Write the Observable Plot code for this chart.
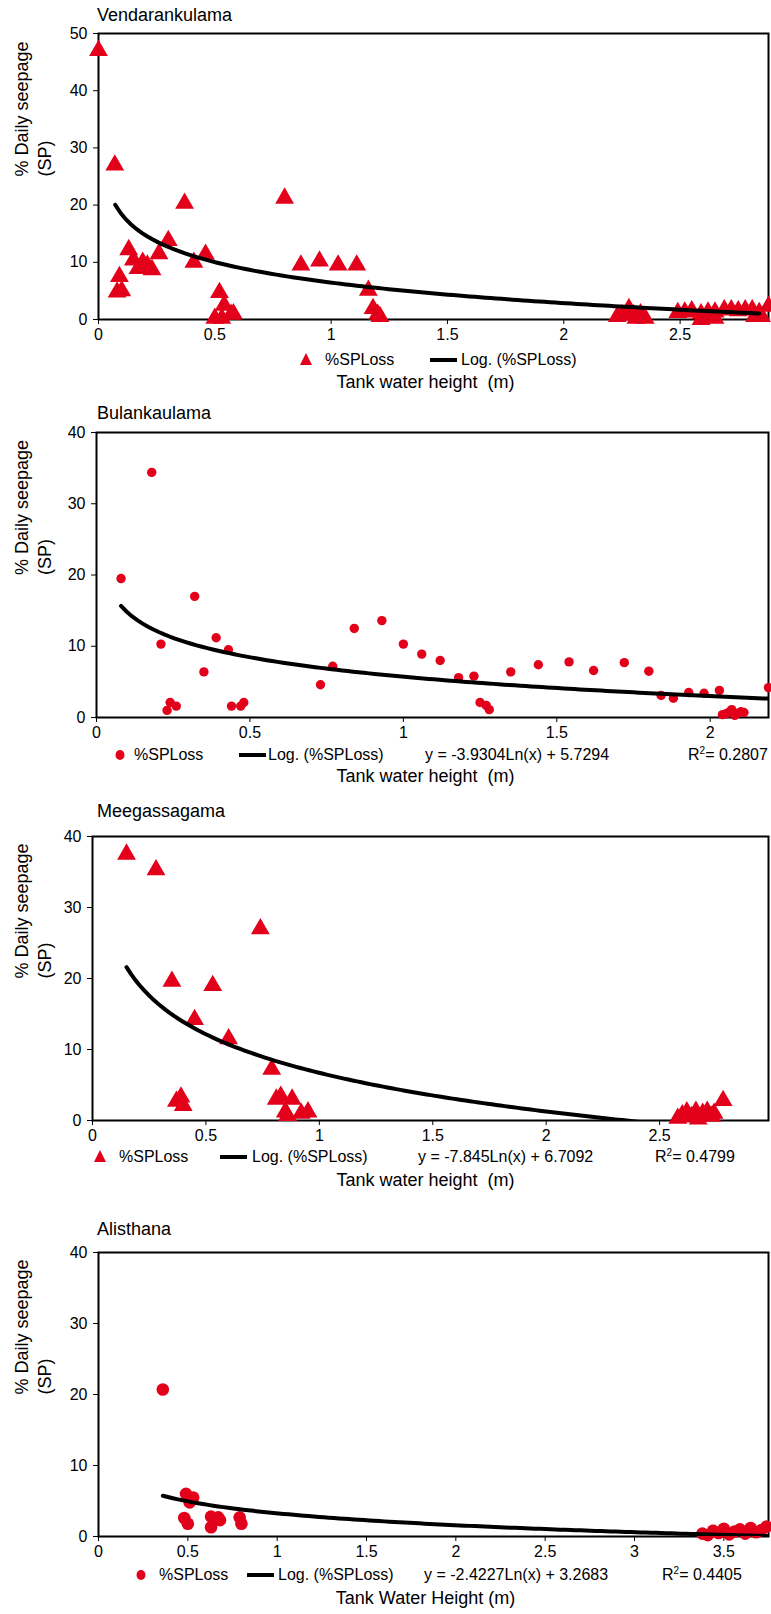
<!DOCTYPE html>
<html>
<head>
<meta charset="utf-8">
<script src="https://cdn.jsdelivr.net/npm/d3@7"></script>
<script src="https://cdn.jsdelivr.net/npm/@observablehq/plot@0.6"></script>
<style>
  body { margin: 0; background: #fff; font-family: "Liberation Sans", Arial, sans-serif; }
  #wrap { position: relative; width: 771px; height: 1614px; overflow: hidden; }
  .abs { position: absolute; white-space: pre; color: #000; }
  .title { font-size: 18px; }
  .leg { font-size: 16px; line-height: 18px; }
  .xlab { font-size: 18px; }
  .sw { display: inline-block; width: 27px; height: 4px; background: #000; vertical-align: middle; }
</style>
</head>
<body>
<div id="wrap"></div>
<script>
// Vendarankulama
const p1X = [0, 0.07, 0.08, 0.09, 0.10, 0.13, 0.15, 0.17, 0.19, 0.21, 0.23, 0.26, 0.30, 0.37, 0.41, 0.46, 0.50, 0.52, 0.54, 0.53, 0.57, 0.58,
  0.80, 0.87, 0.95, 1.03, 1.11, 1.16, 1.18, 1.20, 1.21,
  2.23, 2.28, 2.25, 2.30, 2.31, 2.33, 2.35,
  2.49, 2.52, 2.55, 2.59, 2.59, 2.62, 2.65, 2.65, 2.69, 2.72, 2.75, 2.78, 2.81, 2.82, 2.84, 2.85, 2.88];
const p1Y = [47, 27, 4.8, 7.5, 5, 12.2, 10.4, 8.9, 10, 9.5, 8.7, 11.5, 13.8, 20.3, 10, 11.4, 0.2, 4.7, 2.5, 0.2, 0.9, 1,
  21.2, 9.5, 10.2, 9.5, 9.5, 5.1, 1.9, 0.9, 0.5,
  0.5, 1.9, 0.8, 0.8, 0.2, 1, 0.2,
  1.2, 1.3, 1.5, 1, 0, 1.3, 0.2, 1.3, 1.7, 1.7, 1.5, 1.7, 1.7, 0.5, 1.2, 0.5, 2.3];
// Bulankaulama
const p2X = [0.08, 0.18, 0.21, 0.23, 0.24, 0.26, 0.32, 0.35, 0.39, 0.43, 0.44, 0.47, 0.48, 0.73, 0.77, 0.84, 0.93, 1.00, 1.06, 1.12, 1.18,
  1.23, 1.25, 1.27, 1.28, 1.35, 1.44, 1.54, 1.62, 1.72, 1.80, 1.84, 1.88, 1.93, 1.98, 2.03,
  2.04, 2.05, 2.06, 2.07, 2.08, 2.09, 2.10, 2.11, 2.19];
const p2Y = [19.5, 34.4, 10.3, 1.0, 2.1, 1.6, 17, 6.4, 11.2, 9.5, 1.6, 1.6, 2.1, 4.6, 7.2, 12.5, 13.6, 10.3, 8.9, 8.0, 5.6,
  5.8, 2.1, 1.7, 1.1, 6.4, 7.4, 7.8, 6.6, 7.7, 6.5, 3.1, 2.7, 3.5, 3.4, 3.8,
  0.4, 0.5, 0.7, 1.1, 0.3, 0.6, 0.8, 0.7, 4.2];
// Meegassagama
const p3X = [0.15, 0.28, 0.35, 0.53, 0.74, 0.45, 0.60, 0.79, 0.37, 0.39, 0.40, 0.81, 0.83, 0.88, 0.85, 0.86, 0.92, 0.95,
  2.58, 2.60, 2.62, 2.64, 2.66, 2.67, 2.69, 2.71, 2.73, 2.74, 2.78];
const p3Y = [37.5, 35.3, 19.6, 19.0, 27.0, 14.2, 11.5, 7.2, 2.7, 3.3, 2.1, 3.0, 3.4, 3.0, 1.2, 0.7, 1.0, 1.2,
  0.3, 0.8, 1.2, 0.5, 1.3, 0.2, 1.0, 1.3, 0.6, 1.0, 2.8];
// Alisthana
const p4X = [0.36, 0.49, 0.53, 0.51, 0.48, 0.50, 0.63, 0.63, 0.67, 0.68, 0.79, 0.80,
  3.38, 3.41, 3.44, 3.47, 3.50, 3.53, 3.56, 3.59, 3.62, 3.65, 3.68, 3.71, 3.74];
const p4Y = [20.7, 6.0, 5.5, 4.8, 2.6, 1.8, 2.8, 1.3, 2.7, 2.3, 2.7, 1.8,
  0.4, 0.2, 0.8, 0.5, 1.1, 0.3, 0.7, 1.0, 0.4, 1.2, 0.6, 0.9, 1.4];

const titles = ["Vendarankulama", "Bulankaulama", "Meegassagama", "Alisthana"];
const xLabels = ["Tank water height  (m)", "Tank water height  (m)", "Tank water height  (m)", "Tank Water Height (m)"];
const equations = [null, "y = -3.9304Ln(x) + 5.7294", "y = -7.845Ln(x) + 6.7092", "y = -2.4227Ln(x) + 3.2683"];
const r2 = [null, "0.2807", "0.4799", "0.4405"];
// log trend coefficients [a, b] and fitted x-range
const trendA = [-5.17, -3.9304, -7.845, -2.4227];
const trendB = [6.45, 5.7294, 6.7092, 3.2683];
const trendFrom = [0.072, 0.08, 0.15, 0.36];
const trendTo = [2.84, 2.19, 2.45, 3.74];

const red = "#e2001a";
const wrap = document.getElementById("wrap");

const panels = [
  {xs: p1X, ys: p1Y, xmax: 2.88, ymax: 50, top: 33, bottom: 319, left: 98, symbol: "triangle", r: 7,
   titleY: 5, legY: 351, xlabY: 372,
   leg: [306, 325, 430, 461, 0, 0]},
  {xs: p2X, ys: p2Y, xmax: 2.19, ymax: 40, top: 432, bottom: 717, left: 96, symbol: "circle", r: 4.7,
   titleY: 403, legY: 746, xlabY: 766,
   leg: [121, 134, 239, 268, 425, 688]},
  {xs: p3X, ys: p3Y, xmax: 2.98, ymax: 40, top: 836, bottom: 1120, left: 92, symbol: "triangle", r: 7,
   titleY: 801, legY: 1148, xlabY: 1170,
   leg: [100, 119, 220, 252, 418, 655]},
  {xs: p4X, ys: p4Y, xmax: 3.75, ymax: 40, top: 1252, bottom: 1536, left: 98, symbol: "circle", r: 6.3,
   titleY: 1219, legY: 1566, xlabY: 1588,
   leg: [142, 159, 247, 278, 424, 662]}
];

function addText(html, x, y, cls, extra = "") {
  const d = document.createElement("div");
  d.className = "abs " + cls;
  d.style.left = x + "px";
  d.style.top = y + "px";
  if (extra) d.style.cssText += extra;
  d.innerHTML = html;
  wrap.appendChild(d);
}

panels.forEach((p, i) => {
  const pts = p.xs.map((x, k) => ({x, y: p.ys[k]}));
  const trend = d3.range(0, 121).map(k => {
    const x = trendFrom[i] + (trendTo[i] - trendFrom[i]) * k / 120;
    return {x, y: trendA[i] * Math.log(x) + trendB[i]};
  });
  const mt = 10, mb = 32;
  const chart = Plot.plot({
    width: 771,
    height: p.bottom - p.top + mt + mb,
    marginTop: mt,
    marginBottom: mb,
    marginLeft: p.left,
    marginRight: 3,
    style: {fontFamily: "Liberation Sans, Arial, sans-serif", fontSize: "16px", color: "#000", background: "transparent", overflow: "visible"},
    x: {domain: [0, p.xmax], ticks: d3.range(0, p.xmax + 0.001, 0.5), tickFormat: d => d3.format("")(d), tickSize: 5, label: null},
    y: {domain: [0, p.ymax], ticks: d3.range(0, p.ymax + 1, 10), tickSize: 5, tickPadding: 6, label: null},
    marks: [
      Plot.frame({stroke: "#000", strokeWidth: 2}),
      Plot.dot(pts, {x: "x", y: "y", symbol: () => p.symbol, r: p.r, fill: red, stroke: "none"}),
      Plot.line(trend, {x: "x", y: "y", stroke: "#000", strokeWidth: 4, clip: true}),
      Plot.text(["% Daily seepage\n(SP)"], {frameAnchor: "left", dx: -(p.left - 32), rotate: -90, fontSize: 18, lineHeight: 1.25, fill: "#000"})
    ]
  });
  chart.style.position = "absolute";
  chart.style.left = "0px";
  chart.style.top = (p.top - mt) + "px";
  wrap.appendChild(chart);

  addText(titles[i], 97, p.titleY, "title");
  const L = p.leg;
  const mk = p.symbol === "triangle"
    ? `<svg width="14" height="14"><path d="M7,1 L13,13 L1,13 Z" fill="${red}"/></svg>`
    : `<svg width="12" height="12"><ellipse cx="6" cy="6" rx="4.5" ry="5" fill="${red}"/></svg>`;
  addText(mk, L[0] - 7, p.legY + 1, "leg");
  addText("%SPLoss", L[1], p.legY, "leg");
  addText('<span class="sw"></span>', L[2], p.legY - 1, "leg");
  addText("Log. (%SPLoss)", L[3], p.legY, "leg");
  if (equations[i]) {
    addText(equations[i], L[4], p.legY, "leg");
    addText(`R<sup style="font-size:10px">2</sup>= ${r2[i]}`, L[5], p.legY - 4, "leg");
  }
  addText(xLabels[i], 40, p.xlabY, "xlab", "width:771px;text-align:center;");
});
</script>
</body>
</html>
